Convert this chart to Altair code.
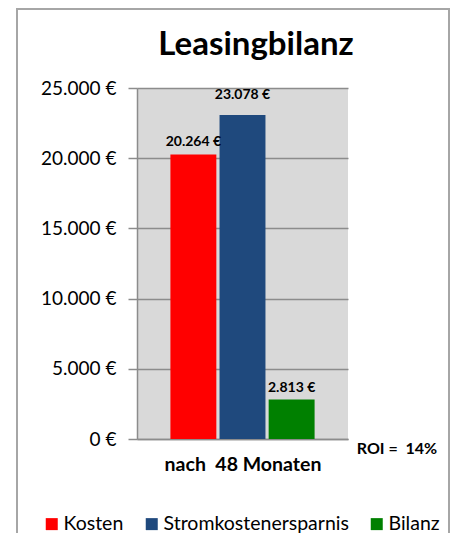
import altair as alt
import pandas as pd

categories = ["Kosten", "Stromkostenersparnis", "Bilanz"]
values = [20264, 23078, 2813]
colors = ["#FF0000", "#1F497D", "#008000"]
y_ticks = [0, 5000, 10000, 15000, 20000, 25000]
title_text = "Leasingbilanz"
x_title = "nach\u00a0\u00a048 Monaten"
roi_text = "ROI =\u00a0\u00a014%"

FONT = "Lato"

df = pd.DataFrame({"cat": categories, "val": values})

yscale = alt.Scale(domain=[0, 25000], nice=False, zero=True)

base = alt.Chart(df).transform_calculate(
    label="replace(format(datum.val, ','), ',', '.') + ' €'"
)

bars = base.mark_bar().encode(
    x=alt.X("cat:N", sort=categories,
            scale=alt.Scale(paddingInner=0.065, paddingOuter=0.68),
            axis=alt.Axis(labels=False, ticks=False, title=x_title,
                          titleFont=FONT, titleFontSize=19.5, titleFontWeight="bold",
                          titleColor="black", titlePadding=16,
                          domainColor="#8C8C8C", domainWidth=1.5)),
    y=alt.Y("val:Q", scale=yscale,
            axis=alt.Axis(values=y_ticks, title=None,
                          labelExpr="replace(format(datum.value, ','), ',', '.') + ' €'",
                          labelFont=FONT, labelFontSize=19, labelColor="black",
                          tickSize=9, tickColor="#8C8C8C", tickWidth=1.5,
                          labelPadding=12, domainColor="#8C8C8C", domainWidth=1.5,
                          grid=True, gridColor="#8C8C8C", gridWidth=1.5)),
    color=alt.Color("cat:N", sort=categories,
                    scale=alt.Scale(domain=categories, range=colors),
                    legend=alt.Legend(orient="none", legendX=-95, legendY=426,
                                      direction="horizontal", title=None,
                                      symbolType="square", symbolSize=144,
                                      symbolStrokeWidth=0, symbolOpacity=1,
                                      labelFont=FONT, labelFontSize=19.5, labelColor="black",
                                      labelLimit=400,
                                      columnPadding=18, labelOffset=2, padding=0)),
)

labels_main = base.transform_filter(
    "datum.cat != 'Stromkostenersparnis'"
).mark_text(dy=-12, font=FONT, fontSize=14, fontWeight="bold", color="black").encode(
    x=alt.X("cat:N", sort=categories),
    y=alt.Y("val:Q", scale=yscale),
    text="label:N",
)

labels_blue = base.transform_filter(
    "datum.cat == 'Stromkostenersparnis'"
).mark_text(dy=-20, font=FONT, fontSize=14, fontWeight="bold", color="black").encode(
    x=alt.X("cat:N", sort=categories),
    y=alt.Y("val:Q", scale=yscale),
    text="label:N",
)

one = alt.Chart(pd.DataFrame({"t": [roi_text], "h": [title_text]}))

roi = one.mark_text(font=FONT, fontSize=16, fontWeight="bold", color="black").encode(
    x=alt.value(260), y=alt.value(361), text="t:N"
)

title = one.mark_text(font=FONT, fontSize=33, fontWeight="bold", color="black",
                      baseline="middle").encode(
    x=alt.value(119), y=alt.value(-43), text="h:N"
)

frame = one.mark_rect(fill=None, stroke="#A6A6A6", strokeWidth=2).encode(
    x=alt.value(-120), x2=alt.value(312), y=alt.value(-79), y2=alt.value(470)
)

chart = alt.layer(frame, bars, labels_main, labels_blue, roi, title).properties(
    width=211, height=351,
    autosize=alt.AutoSizeParams(type="none"),
    padding={"left": 129, "top": 80, "right": 102, "bottom": 94},
    background="white",
).configure_view(
    fill="#D9D9D9", stroke=None
)

chart.save("out.html", embed_options={"renderer": "svg", "actions": False})
